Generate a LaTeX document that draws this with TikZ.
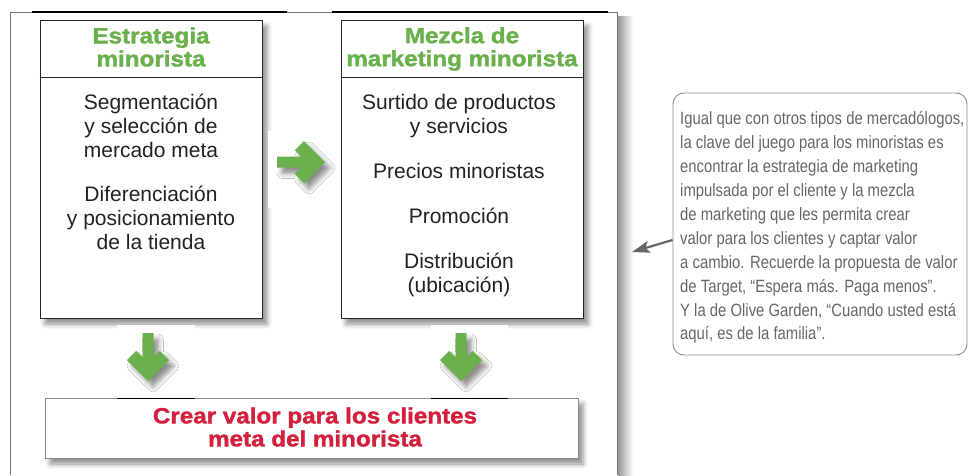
\documentclass[tikz,border=0pt]{standalone}
\usepackage{fontspec}
\setmainfont{Liberation Sans}
\newfontfamily\headfont[FakeStretch=1.1,FakeBold=1.6]{Liberation Sans}
\newfontfamily\notefont[FakeStretch=0.835]{Liberation Sans}
\usetikzlibrary{arrows.meta,calc,shadows.blur}
\definecolor{leafgreen}{HTML}{6AB04C}
\definecolor{crimson}  {HTML}{D2203D}
\definecolor{ink}      {HTML}{222222}
\definecolor{notegray} {HTML}{666666}
\definecolor{rimgray}  {HTML}{8A8A8A}

% chevron arrows, drawn round their centre
\newcommand\rightshape{(-24,-5.5) -- (0.1,-5.5) -- (-6.2,-11.8) -- (3,-21) -- (24,0)
  -- (3,21) -- (-6.2,11.8) -- (0.1,5.5) -- (-24,5.5) -- cycle}
\newcommand\downshape{(-5.5,-24) -- (-5.5,0.1) -- (-11.8,-6.2) -- (-21,3) -- (0,24)
  -- (21,3) -- (11.8,-6.2) -- (5.5,0.1) -- (5.5,-24) -- cycle}

\tikzset{
  softshadow/.style={blur shadow={shadow xshift=5pt, shadow yshift=-6pt,
      shadow blur radius=5pt, shadow opacity=45}},
  panel/.style={draw=black!85, line width=0.9pt, fill=white, softshadow,
      minimum width=#1, minimum height=298pt, inner sep=0pt},
  heading/.style={font=\headfont\bfseries\fontsize{22}{23}\selectfont,
      text=leafgreen, align=center},
  bodytext/.style={font=\fontsize{21}{23.7}\selectfont, text=ink,
      align=center, anchor=north, inner sep=0pt},
  chevron/.style={fill=leafgreen, softshadow},
  patch/.style={fill=white},
  pointer/.style={draw=notegray, line width=2.2pt, -{Stealth[length=18pt,width=12pt,inset=4pt]}},
}

\begin{document}
\begin{tikzpicture}[x=1pt, y=-1pt]
  \useasboundingbox (0,0) rectangle (970,475);

  % frame
  \fill[left color=black!40, right color=white] (618,16) rectangle (633,475);
  \draw[black!55, line width=0.8pt] (10,475) -- (10,12) -- (617,12) -- (617,475);
  \draw[black, line width=2pt] (32,12) -- (287,12) (332,12) -- (608,12);

  % strategy
  \node[panel=222pt] (strategy) at (151,169) {};
  \draw[black!85, line width=0.9pt] ([yshift=-58pt]strategy.north west)
    -- ([yshift=-58pt]strategy.north east);
  \node[heading] (strategyhead) at (151,47) {Estrategia\\minorista};
  \node[bodytext] (strategybody) at (151,94) {Segmentación\\y selección de\\mercado meta\\[21pt]%
    Diferenciación\\y posicionamiento\\de la tienda};

  % marketing mix
  \node[panel=242pt] (mix) at (462,169) {};
  \draw[black!85, line width=0.9pt] ([yshift=-58pt]mix.north west)
    -- ([yshift=-58pt]mix.north east);
  \node[heading] (mixhead) at (462,49) {Mezcla de\\marketing minorista};
  \node[bodytext] (mixbody) at (459,94) {Surtido de productos\\y servicios\\[21.5pt]%
    Precios minoristas\\[21.5pt]Promoción\\[21.5pt]Distribución\\(ubicación)};

  % white patches under the arrows
  \fill[patch] (268,131) rectangle (341,208);
  \fill[patch] (117,325) rectangle (195,398);
  \fill[patch] (431,325) rectangle (508,398);

  % value
  \node[draw=rimgray, line width=0.9pt, fill=white, softshadow, minimum width=533pt,
    minimum height=60pt, inner sep=0pt] (value) at (311.5,428) {};
  \draw[black, line width=0.9pt] (117,398) -- (195,398) (431,398) -- (508,398);
  \node[heading, text=crimson] (valuetext) at (315,427)
    {Crear valor para los clientes\\meta del minorista};

  % arrows
  \fill[chevron, shift={(301,162)}] \rightshape;
  \fill[chevron, shift={(148,357)}] \downshape;
  \fill[chevron, shift={(461,357)}] \downshape;

  % note
  \node[draw=rimgray, line width=0.9pt, rounded corners=11pt, minimum width=294pt,
    minimum height=262pt, inner sep=0pt] (note) at (820,224) {};
  \node[font=\notefont\fontsize{17.8}{23.9}\selectfont, text=notegray, align=left,
    anchor=north west, inner sep=0pt] (notetext) at (680,111.5)
    {Igual que con otros tipos de mercadólogos,\\
     la clave del juego para los minoristas es\\
     encontrar la estrategia de marketing\\
     impulsada por el cliente y la mezcla\\
     de marketing que les permita crear\\
     valor para los clientes y captar valor\\
     a cambio. Recuerde la propuesta de valor\\
     de Target, “Espera más. Paga menos”.\\
     Y la de Olive Garden, “Cuando usted está\\
     aquí, es de la familia”.};
  \coordinate (notetip) at (632,252);
  \draw[pointer] ([yshift=-16pt]note.west) -- (notetip);
\end{tikzpicture}
\end{document}
